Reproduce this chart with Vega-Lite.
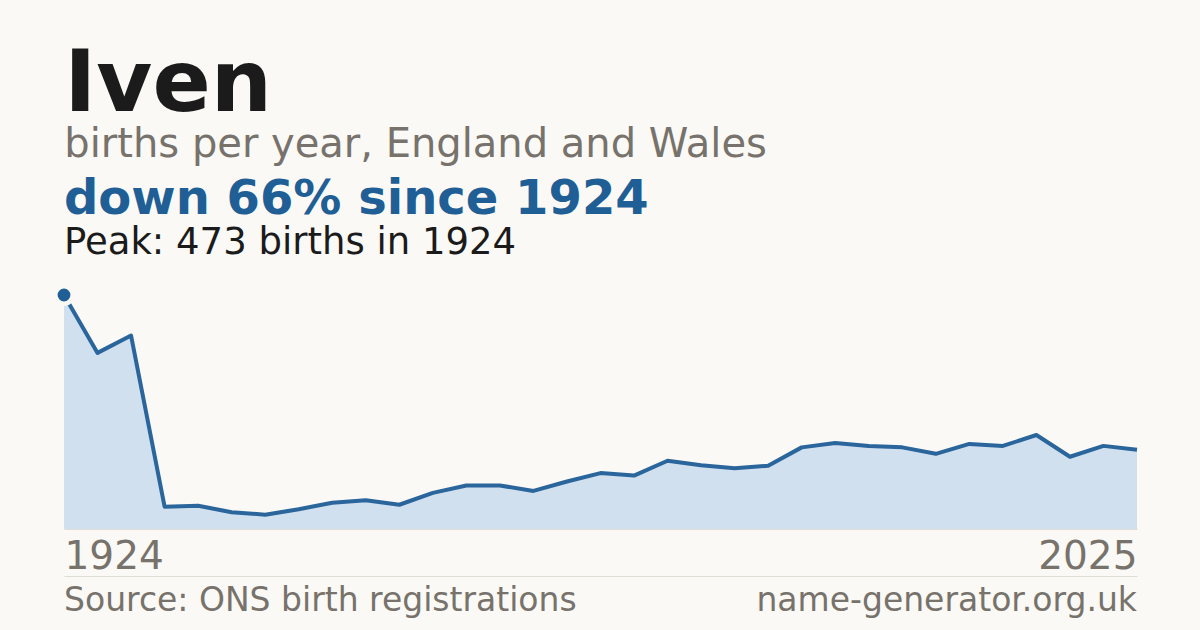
{
  "$schema": "https://vega.github.io/schema/vega-lite/v6.json",
  "background": "#faf9f5",
  "padding": {"left": 46, "right": 63, "top": 42, "bottom": 0},
  "title": {
    "text": "Iven",
    "subtitle": "births per year, England and Wales",
    "anchor": "start",
    "dx": 18,
    "font": "DejaVu Sans",
    "fontSize": 86,
    "fontWeight": "bold",
    "color": "#1b1b1b",
    "subtitleFont": "DejaVu Sans",
    "subtitleFontSize": 40,
    "subtitleColor": "#77726b",
    "subtitlePadding": -4,
    "offset": 10
  },
  "config": {"view": {"stroke": null}, "font": "DejaVu Sans"},
  "spacing": -13,
  "vconcat": [
    {
      "width": 1073,
      "height": 234,
      "title": {
        "text": "down 66% since 1924",
        "subtitle": "Peak: 473 births in 1924",
        "anchor": "start",
        "frame": "group",
        "font": "DejaVu Sans",
        "fontSize": 48,
        "fontWeight": "bold",
        "color": "#1f5f96",
        "subtitleFont": "DejaVu Sans",
        "subtitleFontSize": 37,
        "subtitleColor": "#1b1b1b",
        "subtitlePadding": 1,
        "offset": 16
      },
      "data": {
        "values": [
          {"year": 1924, "births": 473},
          {"year": 1934, "births": 356},
          {"year": 1944, "births": 391},
          {"year": 1996, "births": 45},
          {"year": 1997, "births": 47},
          {"year": 1998, "births": 34},
          {"year": 1999, "births": 29},
          {"year": 2000, "births": 40},
          {"year": 2001, "births": 53},
          {"year": 2002, "births": 58},
          {"year": 2003, "births": 49},
          {"year": 2004, "births": 73},
          {"year": 2005, "births": 88},
          {"year": 2006, "births": 88},
          {"year": 2007, "births": 77},
          {"year": 2008, "births": 96},
          {"year": 2009, "births": 113},
          {"year": 2010, "births": 108},
          {"year": 2011, "births": 138},
          {"year": 2012, "births": 129},
          {"year": 2013, "births": 123},
          {"year": 2014, "births": 128},
          {"year": 2015, "births": 165},
          {"year": 2016, "births": 174},
          {"year": 2017, "births": 168},
          {"year": 2018, "births": 165},
          {"year": 2019, "births": 152},
          {"year": 2020, "births": 172},
          {"year": 2021, "births": 168},
          {"year": 2022, "births": 190},
          {"year": 2023, "births": 146},
          {"year": 2024, "births": 168},
          {"year": 2025, "births": 160}
        ]
      },
      "encoding": {
        "x": {
          "field": "year",
          "type": "ordinal",
          "scale": {"type": "point", "padding": 0},
          "axis": {
            "values": [1924, 2025],
            "title": null,
            "ticks": false,
            "labelAngle": 0,
            "labelFontSize": 39,
            "labelColor": "#77726b",
            "labelPadding": 8,
            "domainColor": "#e0ddd5",
            "domainWidth": 1,
            "zindex": 1,
            "labelAlign": {"condition": {"test": "datum.value == 1924", "value": "left"}, "value": "right"}
          }
        },
        "y": {
          "field": "births",
          "type": "quantitative",
          "scale": {"domain": [0, 473], "nice": false},
          "axis": null
        }
      },
      "layer": [
        {"mark": {"type": "area", "color": "#d0e0ef"}},
        {"mark": {"type": "line", "color": "#2a659c", "strokeWidth": 4, "strokeJoin": "round"}},
        {
          "transform": [{"filter": "datum.year == 1924"}],
          "mark": {"type": "point", "filled": true, "size": 300, "color": "#1f5f96", "stroke": "#faf9f5", "strokeWidth": 4.5, "opacity": 1}
        }
      ]
    },
    {
      "width": 1073,
      "height": 56,
      "encoding": {
        "x": {
          "field": "year",
          "type": "ordinal",
          "scale": {"type": "point", "padding": 0},
          "axis": {"orient": "top", "labels": false, "ticks": false, "title": null, "domainColor": "#e0ddd5", "domainWidth": 1}
        },
        "text": {"field": "note"}
      },
      "layer": [
        {
          "data": {"values": [{"year": 1924, "note": "Source: ONS birth registrations"}]},
          "mark": {"type": "text", "align": "left", "baseline": "alphabetic", "dy": 7, "fontSize": 33, "color": "#77726b"}
        },
        {
          "data": {"values": [{"year": 2025, "note": "name-generator.org.uk"}]},
          "mark": {"type": "text", "align": "right", "baseline": "alphabetic", "dy": 7, "fontSize": 33, "color": "#77726b"}
        }
      ]
    }
  ]
}
